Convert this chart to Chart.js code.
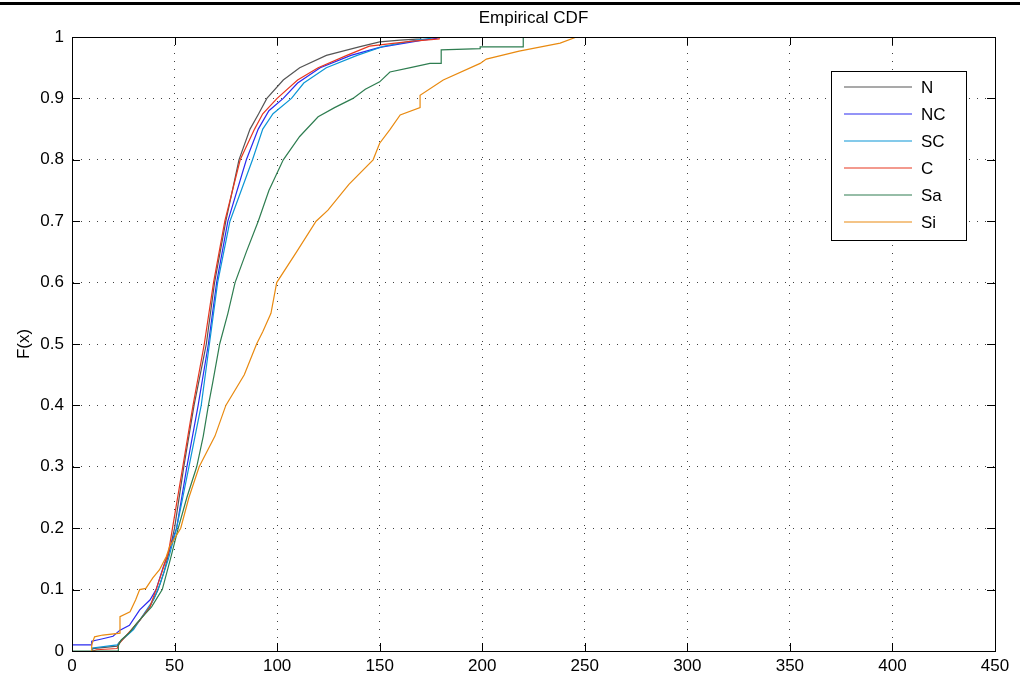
<!DOCTYPE html>
<html lang="en">
  <head>
    <meta charset="UTF-8" />
    <title>Empirical CDF</title>
    <script src="https://cdn.jsdelivr.net/npm/chart.js"></script>
    <style>
      body { margin: 0; background: #fff; }
      #wrap { width: 1020px; height: 680px; }
    </style>
  </head>
  <body>
    <div id="wrap"><canvas id="cdfChart"></canvas></div>

    <script>
// series labels and colours
const seriesNames = ['N', 'NC', 'SC', 'C', 'Sa', 'Si'];
const seriesColors = ['#555555', '#2a2af0', '#0b95d6', '#e8361f', '#2e7d50', '#e98a10'];
const chartTitle = 'Empirical CDF';

// ticks
const xTicks = [0, 50, 100, 150, 200, 250, 300, 350, 400, 450];
const yTicks = [0, 0.1, 0.2, 0.3, 0.4, 0.5, 0.6, 0.7, 0.8, 0.9, 1];

// [x, F(x)] points of each empirical cdf
const cdfN = [[10, 0], [10, 0.004], [22, 0.008], [23, 0.014], [28, 0.03], [33, 0.05], [38, 0.072],
  [42, 0.1], [45, 0.13], [48, 0.17], [50, 0.2], [54.5, 0.3], [59.5, 0.4], [65.5, 0.5], [69.5, 0.6],
  [75, 0.7], [81.4, 0.8], [86.8, 0.85], [91, 0.875], [95, 0.9], [103, 0.93], [111, 0.95],
  [124, 0.97], [140, 0.984], [150, 0.992], [160, 0.995], [170, 0.997], [170, 1]];
const cdfNC = [[0, 0.01], [9.6, 0.01], [9.6, 0.016], [15, 0.02], [20, 0.024], [23.4, 0.034],
  [28, 0.042], [33, 0.067], [38, 0.083], [41, 0.1], [44.5, 0.137], [48, 0.17], [51, 0.2],
  [56, 0.3], [61.5, 0.4], [66.5, 0.5], [70.5, 0.6], [76, 0.7], [85, 0.8], [90.8, 0.85],
  [96, 0.88], [103, 0.9], [110, 0.925], [121, 0.95], [136, 0.97], [150, 0.983], [171, 0.995],
  [178, 0.998], [178, 1], [220, 1]];
const cdfSC = [[10, 0], [10, 0.005], [22, 0.01], [25, 0.02], [30, 0.035], [35, 0.06], [40, 0.085],
  [43, 0.11], [47, 0.15], [51, 0.2], [57, 0.3], [63, 0.4], [67, 0.5], [71, 0.6], [77, 0.7],
  [88, 0.8], [93, 0.85], [98, 0.875], [107, 0.9], [113, 0.925], [124, 0.95], [139, 0.97],
  [152, 0.985], [168, 0.995], [175, 0.998], [175, 1]];
const cdfC = [[10, 0], [12, 0.002], [22, 0.004], [23, 0.012], [28, 0.031], [33, 0.05], [38, 0.072],
  [41, 0.1], [44, 0.13], [47, 0.16], [49, 0.2], [54, 0.3], [59, 0.4], [64.5, 0.5], [69, 0.6],
  [74.5, 0.7], [82, 0.8], [89, 0.85], [93, 0.875], [100, 0.9], [110, 0.93], [120, 0.95],
  [134, 0.97], [145, 0.985], [165, 0.993], [179, 0.997], [179, 1], [215, 1]];
const cdfSa = [[0, 0], [22.6, 0], [22.6, 0.009], [24, 0.018], [28, 0.03], [31.5, 0.045],
  [38.8, 0.072], [44, 0.1], [48, 0.15], [51.8, 0.2], [56, 0.25], [60.8, 0.3], [64, 0.35],
  [66.5, 0.4], [68.6, 0.437], [72, 0.5], [76, 0.55], [79.5, 0.6], [85, 0.65], [90.8, 0.7],
  [96, 0.75], [103, 0.8], [111, 0.838], [120, 0.87], [128, 0.885], [137, 0.9], [143, 0.915],
  [150, 0.927], [155, 0.943], [165, 0.95], [174.5, 0.957], [180, 0.957], [180, 0.979],
  [199, 0.981], [199, 0.984], [220, 0.984], [220, 1]];
const cdfSi = [[9.6, 0], [9.6, 0.01], [11, 0.023], [15, 0.026], [23.4, 0.029], [23.4, 0.056],
  [28.3, 0.064], [31, 0.083], [33, 0.1], [36, 0.102], [39.4, 0.119], [42.6, 0.132], [46, 0.154],
  [47.6, 0.17], [53, 0.2], [57, 0.25], [62, 0.3], [69.7, 0.35], [75, 0.4], [84, 0.45], [90, 0.5],
  [93, 0.52], [97, 0.55], [99.8, 0.6], [109.5, 0.65], [119, 0.7], [124.8, 0.718], [135, 0.76],
  [146.8, 0.8], [150, 0.827], [155, 0.849], [160, 0.873], [169.7, 0.885], [169.7, 0.905],
  [181, 0.93], [199, 0.957], [202, 0.964], [218, 0.977], [238, 0.99], [246, 1]];

const allCdfs = [cdfN, cdfNC, cdfSC, cdfC, cdfSa, cdfSi];
const FONT = "'Liberation Sans', Arial, Helvetica, sans-serif";

// axis box, inward tick marks, title over the plot, top rule and boxed legend
const frameAndLegend = {
  id: 'frameAndLegend',
  afterDraw(chart) {
    const { ctx, chartArea: a, scales } = chart;
    ctx.save();
    ctx.fillStyle = '#000';
    ctx.fillRect(0, 2, chart.width, 3);

    ctx.font = '17px ' + FONT;
    ctx.textAlign = 'center';
    ctx.textBaseline = 'middle';
    ctx.fillText(chartTitle, (a.left + a.right) / 2, 18);

    ctx.strokeStyle = '#000';
    ctx.lineWidth = 1;
    ctx.strokeRect(a.left + 0.5, a.top + 0.5, a.right - a.left, a.bottom - a.top);

    const len = 8;
    ctx.beginPath();
    scales.x.ticks.forEach(t => {
      const px = Math.round(scales.x.getPixelForValue(t.value)) + 0.5;
      ctx.moveTo(px, a.bottom); ctx.lineTo(px, a.bottom - len);
      ctx.moveTo(px, a.top); ctx.lineTo(px, a.top + len);
    });
    scales.y.ticks.forEach(t => {
      const py = Math.round(scales.y.getPixelForValue(t.value)) + 0.5;
      ctx.moveTo(a.left, py); ctx.lineTo(a.left + len, py);
      ctx.moveTo(a.right, py); ctx.lineTo(a.right - len, py);
    });
    ctx.stroke();

    // legend box
    const bx = a.right - 164, by = a.top + 34, bw = 135, bh = 169;
    ctx.fillStyle = '#fff';
    ctx.fillRect(bx, by, bw, bh);
    ctx.strokeRect(bx + 0.5, by + 0.5, bw, bh);
    ctx.textAlign = 'left';
    chart.data.datasets.forEach((ds, i) => {
      const y = by + 16 + i * 27;
      ctx.strokeStyle = ds.borderColor;
      ctx.lineWidth = 1.2;
      ctx.beginPath();
      ctx.moveTo(bx + 13, y); ctx.lineTo(bx + 81, y);
      ctx.stroke();
      ctx.fillStyle = '#000';
      ctx.fillText(ds.label, bx + 90, y + 1);
    });
    ctx.restore();
  }
};

const ctx = document.getElementById('cdfChart');
new Chart(ctx, {
  type: 'line',
  data: {
    datasets: seriesNames.map((name, i) => ({
      label: name,
      data: allCdfs[i].map(p => ({ x: p[0], y: p[1] })),
      borderColor: seriesColors[i],
      borderWidth: 1.2,
      pointRadius: 0,
      tension: 0,
      fill: false,
      order: seriesNames.length - i
    }))
  },
  options: {
    responsive: true,
    maintainAspectRatio: false,
    animation: false,
    layout: { padding: { left: 0, right: 25, top: 37, bottom: 0 } },
    scales: {
      x: {
        type: 'linear',
        min: 0,
        max: 450,
        afterBuildTicks(scale) { scale.ticks = xTicks.map(v => ({ value: v })); },
        afterFit(scale) { scale.height = 29; },
        ticks: { color: '#000', padding: 5, font: { family: FONT, size: 17 } },
        grid: { color: 'rgba(0,0,0,0.75)', lineWidth: 1, drawTicks: false },
        border: { color: '#000', dash: [1, 7] }
      },
      y: {
        min: 0,
        max: 1,
        afterBuildTicks(scale) { scale.ticks = yTicks.map(v => ({ value: v })); },
        afterFit(scale) { scale.width = 72; },
        ticks: {
          color: '#000',
          padding: 8,
          font: { family: FONT, size: 17 },
          callback: v => String(Number(v.toFixed(1)))
        },
        grid: { color: 'rgba(0,0,0,0.75)', lineWidth: 1, drawTicks: false },
        border: { color: '#000', dash: [1, 7] },
        title: { display: true, text: 'F(x)', color: '#000', padding: { top: 14, bottom: 0 }, font: { family: FONT, size: 17 } }
      }
    },
    plugins: {
      legend: { display: false },
      tooltip: { enabled: false },
      title: { display: false }
    }
  },
  plugins: [frameAndLegend]
});
    </script>
  </body>
</html>
